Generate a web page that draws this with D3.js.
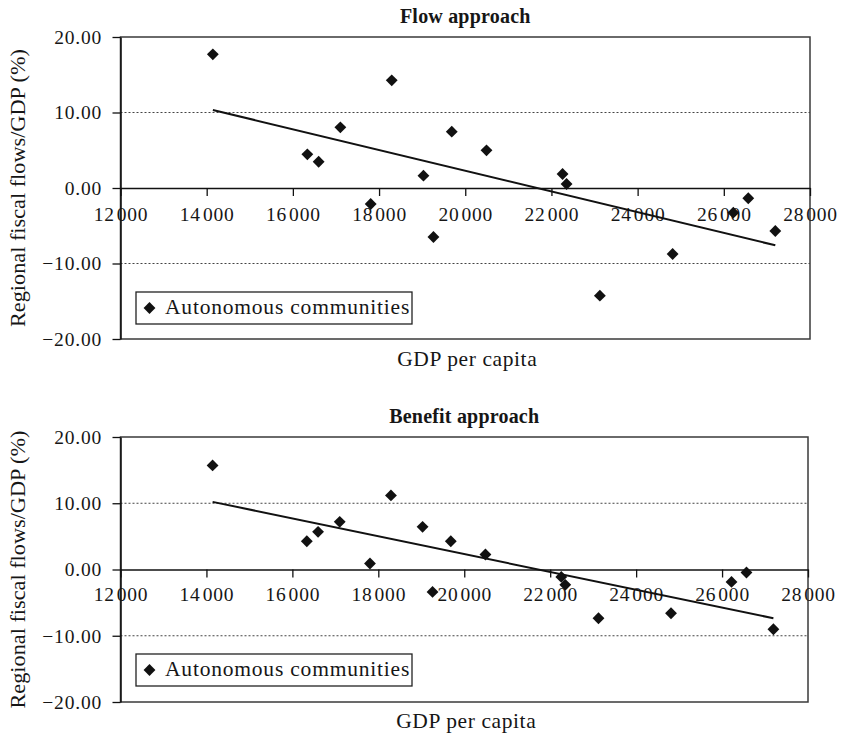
<!DOCTYPE html>
<html>
<head>
<meta charset="utf-8">
<script src="https://cdn.jsdelivr.net/npm/d3@7"></script>
<style>
  body { margin: 0; background: #fff; }
  svg text { font-family: "Liberation Serif", "Times New Roman", serif; fill: #161616; }
</style>
</head>
<body>
<svg id="chart" width="841" height="733"></svg>
<script>
// GDP per capita of the 17 autonomous communities
const gdpPerCapita = [14143, 16336, 16598, 17102, 17806, 18294, 19030, 19262, 19687,
                      20493, 22258, 22351, 23124, 24812, 26220, 26568, 27195];
// Regional fiscal flows as % of GDP, flow approach
const flowBalance = [17.7, 4.46, 3.48, 8.04, -2.12, 14.26, 1.63, -6.49, 7.46,
                     4.99, 1.85, 0.53, -14.26, -8.74, -3.27, -1.36, -5.70];
// Regional fiscal flows as % of GDP, benefit approach
const benefitBalance = [15.71, 4.27, 5.68, 7.19, 0.9, 11.18, 6.44, -3.38, 4.27,
                        2.27, -1.12, -2.32, -7.36, -6.6, -1.87, -0.45, -9.02];
// Linear trend values at the lowest and highest GDP per capita
const flowTrend = [10.33, -7.59];
const benefitTrend = [10.21, -7.36];

const xTicks = [12000, 14000, 16000, 18000, 20000, 22000, 24000, 26000, 28000];
const yTicks = [20, 10, 0, -10, -20];
const gridValues = [10, -10];
const panelTitles = ["Flow approach", "Benefit approach"];
const xTitle = "GDP per capita";
const yTitle = "Regional fiscal flows/GDP (%)";
const legendLabel = "Autonomous communities";

const panels = [
  { title: panelTitles[0], values: flowBalance, trend: flowTrend,
    left: 120.5, right: 810, top: 37, bottom: 339, titleY: 23, xTitleY: 366,
    tickLabelDy: 32.5, legendY: 292 },
  { title: panelTitles[1], values: benefitBalance, trend: benefitTrend,
    left: 120.5, right: 808, top: 437, bottom: 702, titleY: 423, xTitleY: 728,
    tickLabelDy: 31, legendY: 654 }
];

const svg = d3.select("#chart");
svg.append("rect").attr("width", 841).attr("height", 733).attr("fill", "#fff");

const fmtY = v => (v < 0 ? "\u2212" : "") + Math.abs(v).toFixed(2);
const diamond = d3.symbol().type(d3.symbolSquare).size(70);

panels.forEach(p => {
  const x = d3.scaleLinear().domain([12000, 28000]).range([p.left, p.right]);
  const y = d3.scaleLinear().domain([-20, 20]).range([p.bottom, p.top]);
  const g = svg.append("g");

  // plot frame
  g.append("rect")
    .attr("x", p.left).attr("y", p.top)
    .attr("width", p.right - p.left).attr("height", p.bottom - p.top)
    .attr("fill", "none").attr("stroke", "#3a3a3a").attr("stroke-width", 1.5);

  // dotted gridlines
  g.selectAll("line.grid").data(gridValues).join("line")
    .attr("class", "grid")
    .attr("x1", p.left).attr("x2", p.right)
    .attr("y1", d => y(d)).attr("y2", d => y(d))
    .attr("stroke", "#444").attr("stroke-width", 1)
    .attr("stroke-dasharray", "2,2");

  // x axis crossing at zero
  const xAxis = g.append("g")
    .attr("transform", `translate(0,${y(0)})`)
    .call(d3.axisBottom(x).tickValues(xTicks).tickSize(8).tickSizeOuter(0).tickPadding(0));
  xAxis.attr("font-family", null);
  xAxis.select(".domain").attr("stroke", "#111").attr("stroke-width", 1.5);
  xAxis.selectAll(".tick line").attr("stroke", "#111").attr("stroke-width", 1.3);
  xAxis.selectAll(".tick text")
    .attr("font-size", 19.5).attr("letter-spacing", 0.8)
    .attr("fill", "#161616")
    .attr("y", p.tickLabelDy).attr("dy", null)
    .each(function(d) {
      const s = String(d);
      const t = d3.select(this).text(null);
      t.append("tspan").text(s.slice(0, s.length - 3));
      t.append("tspan").attr("dx", 2).text(s.slice(s.length - 3));
    });

  // y axis
  const yAxis = g.append("g")
    .attr("transform", `translate(${p.left},0)`)
    .call(d3.axisLeft(y).tickValues(yTicks).tickSize(8).tickSizeOuter(0)
      .tickPadding(10.5).tickFormat(fmtY));
  yAxis.attr("font-family", null);
  yAxis.select(".domain").attr("stroke", "#111").attr("stroke-width", 1.5);
  yAxis.selectAll(".tick line").attr("stroke", "#111").attr("stroke-width", 1.3);
  yAxis.selectAll(".tick text")
    .attr("font-size", 19.5).attr("letter-spacing", 0.8)
    .attr("fill", "#161616").attr("dy", "0.33em");

  // trend line
  const xExtent = d3.extent(gdpPerCapita);
  g.append("line")
    .attr("x1", x(xExtent[0])).attr("y1", y(p.trend[0]))
    .attr("x2", x(xExtent[1])).attr("y2", y(p.trend[1]))
    .attr("stroke", "#111").attr("stroke-width", 2);

  // data points
  g.selectAll("path.pt").data(gdpPerCapita).join("path")
    .attr("class", "pt")
    .attr("d", diamond)
    .attr("transform", (d, i) => `translate(${x(d)},${y(p.values[i])}) rotate(45)`)
    .attr("fill", "#111");

  // legend
  const lg = g.append("g").attr("transform", `translate(136,${p.legendY})`);
  lg.append("rect").attr("width", 276).attr("height", 32)
    .attr("fill", "#fff").attr("stroke", "#222").attr("stroke-width", 1.3);
  lg.append("path").attr("d", diamond)
    .attr("transform", "translate(13.5,16) rotate(45)").attr("fill", "#111");
  lg.append("text").attr("x", 29).attr("y", 22)
    .attr("font-size", 21.5).attr("letter-spacing", 0.8)
    .text(legendLabel);

  // titles
  const cx = (p.left + p.right) / 2;
  g.append("text").attr("x", cx).attr("y", p.titleY)
    .attr("text-anchor", "middle").attr("font-weight", "bold")
    .attr("font-size", 20).attr("letter-spacing", 0.2)
    .text(p.title);
  g.append("text").attr("x", cx + 2).attr("y", p.xTitleY)
    .attr("text-anchor", "middle").attr("font-size", 21.5).attr("letter-spacing", 0.6)
    .text(xTitle);
  const cy = (p.top + p.bottom) / 2;
  g.append("text")
    .attr("transform", `translate(25,${cy}) rotate(-90)`)
    .attr("text-anchor", "middle").attr("font-size", 22)
    .attr("textLength", 278).attr("lengthAdjust", "spacingAndGlyphs")
    .text(yTitle);
});
</script>
</body>
</html>
